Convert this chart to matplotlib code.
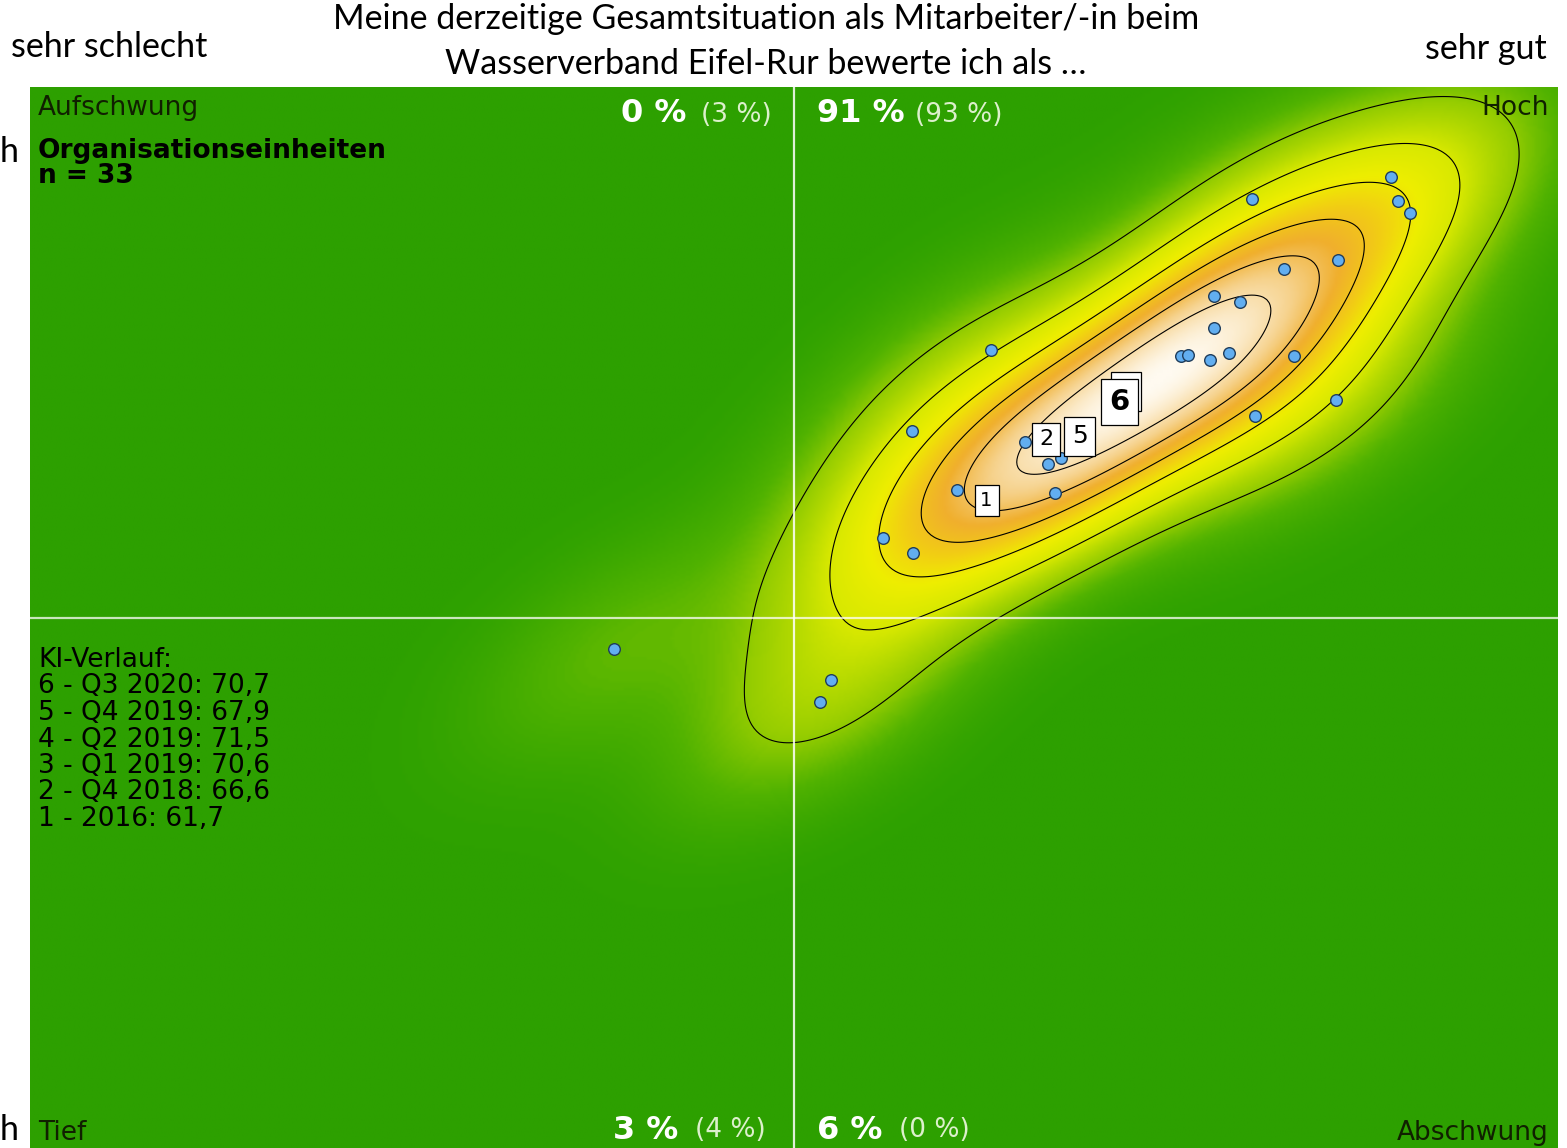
import numpy as np
import matplotlib
matplotlib.use("Agg")
import matplotlib.pyplot as plt
from matplotlib.colors import LinearSegmentedColormap

# ---------------- data ----------------
# organisational units (x = Bewertung, y = Erwartung), scale 0..100
unit_x = [89.1, 89.5, 90.3, 80.0, 85.6, 82.1, 77.5, 79.2, 77.5, 75.3, 75.8, 77.2,
          78.5, 82.7, 62.9, 85.5, 80.2, 57.7, 65.1, 66.6, 67.5, 60.7, 67.1, 55.8,
          57.8, 38.2, 52.4, 51.7,
          62.6, 66.5, 68.7, 71.2, 71.8]
unit_y = [91.5, 89.3, 88.1, 89.4, 83.7, 82.8, 80.3, 79.7, 77.3, 74.6, 74.7, 74.3,
          74.9, 74.6, 75.2, 70.5, 69.0, 67.6, 66.5, 64.5, 65.0, 62.0, 61.7, 57.5,
          56.1, 47.0, 44.1, 42.0,
          61.0, 66.8, 67.1, 70.3, 71.3]

# KI history labels
hist_labels = ["1", "2", "3", "4", "5", "6"]
hist_x = [62.6, 66.5, 71.1, 71.7, 68.7, 71.3]
hist_y = [61.0, 66.8, 70.2, 71.3, 67.1, 70.3]
hist_text = ["6 - Q3 2020: 70,7", "5 - Q4 2019: 67,9", "4 - Q2 2019: 71,5",
             "3 - Q1 2019: 70,6", "2 - Q4 2018: 66,6", "1 - 2016: 61,7"]

# quadrant shares: current and (previous)
quad_now = {"ul": "0 %", "ur": "91 %", "ll": "3 %", "lr": "6 %"}
quad_prev = {"ul": "(3 %)", "ur": "(93 %)", "ll": "(4 %)", "lr": "(0 %)"}

title = "Meine derzeitige Gesamtsituation als Mitarbeiter/-in beim\nWasserverband Eifel-Rur bewerte ich als \u2026"

# ---------------- figure ----------------
W, H = 1567, 1148
fig = plt.figure(figsize=(W / 100, H / 100), dpi=100)
ax = fig.add_axes([30 / W, 0, 1528 / W, 1 - 87 / H])
ax.set_xlim(0, 100)
ax.set_ylim(0, 100)
ax.set_axis_off()

# KDE (Gaussian kernel, correlated bandwidth)
n = len(unit_x)
bw_x, bw_y, rho = 6.5, 7.5, 0.55
cov = np.array([[bw_x ** 2, rho * bw_x * bw_y], [rho * bw_x * bw_y, bw_y ** 2]])
inv = np.linalg.inv(cov)
gx = np.linspace(0, 100, 520)
gy = np.linspace(0, 100, 380)
GX, GY = np.meshgrid(gx, gy)
dens = np.zeros_like(GX)
for px, py in zip(unit_x, unit_y):
    dx = GX - px
    dy = GY - py
    dens += np.exp(-0.5 * (inv[0, 0] * dx * dx + 2 * inv[0, 1] * dx * dy + inv[1, 1] * dy * dy))
dens /= dens.max()

cmap = LinearSegmentedColormap.from_list("kde", [
    (0.00, (45 / 255, 160 / 255, 0.0)),
    (0.07, (80 / 255, 178 / 255, 0.0)),
    (0.15, (150 / 255, 205 / 255, 0.0)),
    (0.28, (215 / 255, 232 / 255, 0.0)),
    (0.40, (238 / 255, 238 / 255, 0.0)),
    (0.52, (242 / 255, 205 / 255, 20 / 255)),
    (0.65, (240 / 255, 175 / 255, 45 / 255)),
    (0.80, (246 / 255, 210 / 255, 140 / 255)),
    (1.00, (1.0, 250 / 255, 240 / 255)),
])
ax.imshow(dens, extent=[0, 100, 0, 100], origin="lower", aspect="auto",
          cmap=cmap, vmin=0, vmax=1, interpolation="bilinear", zorder=0)
ax.contour(GX, GY, dens, levels=np.linspace(0, 1, 8)[1:-1], colors="black",
           linewidths=0.8, zorder=1)

# centre lines
ax.axvline(50, color="white", lw=1.6, alpha=0.85, zorder=2)
ax.axhline(50, color="white", lw=1.6, alpha=0.75, zorder=2)

# units
ax.scatter(unit_x, unit_y, s=70, color="#62aef0", edgecolor="#1f3d5c",
           linewidth=1.0, zorder=3)

# history labels
sizes = [14, 16, 17, 17.5, 18, 21]
weights = ["normal"] * 5 + ["bold"]
for lab, hx, hy, fs, fw in zip(hist_labels, hist_x, hist_y, sizes, weights):
    ax.text(hx, hy, lab, fontsize=fs, fontweight=fw, ha="center", va="center",
            zorder=5, family="DejaVu Sans",
            bbox=dict(boxstyle="square,pad=0.3", facecolor="white",
                      edgecolor="black", linewidth=0.9))

# ---------------- texts inside plot ----------------
def ftx(px):
    return px / W

def fty(py):
    return 1 - py / H

fs_in = 19
dark = "#102000"
fig.text(ftx(38), fty(115), "Aufschwung", fontsize=fs_in, color=dark, va="baseline")
fig.text(ftx(1549), fty(115), "Hoch", fontsize=fs_in, color=dark, va="baseline", ha="right")
fig.text(ftx(38), fty(1140), "Tief", fontsize=fs_in, color=dark, va="baseline")
fig.text(ftx(1549), fty(1140), "Abschwung", fontsize=fs_in, color=dark, va="baseline", ha="right")
fig.text(ftx(38), fty(158), "Organisationseinheiten", fontsize=fs_in, fontweight="bold",
         color="black", va="baseline")
fig.text(ftx(38), fty(183), "n = %d" % n, fontsize=fs_in, fontweight="bold",
         color="black", va="baseline")

fig.text(ftx(38), fty(667), "KI-Verlauf:", fontsize=fs_in, color="black", va="baseline")
for i, t in enumerate(hist_text):
    fig.text(ftx(38), fty(693.5 + 26.5 * i), t, fontsize=fs_in, color="black", va="baseline")

pc_bold = dict(fontsize=23, fontweight="bold", color="white", va="baseline")
pc_prev = dict(fontsize=19, color="#dcf0cc", va="baseline")
fig.text(ftx(686), fty(122), quad_now["ul"], ha="right", **pc_bold)
fig.text(ftx(772), fty(122), quad_prev["ul"], ha="right", **pc_prev)
fig.text(ftx(817), fty(122), quad_now["ur"], ha="left", **pc_bold)
fig.text(ftx(915), fty(122), quad_prev["ur"], ha="left", **pc_prev)
fig.text(ftx(678), fty(1139), quad_now["ll"], ha="right", **pc_bold)
fig.text(ftx(766), fty(1137), quad_prev["ll"], ha="right", **pc_prev)
fig.text(ftx(817), fty(1139), quad_now["lr"], ha="left", **pc_bold)
fig.text(ftx(899), fty(1137), quad_prev["lr"], ha="left", **pc_prev)

# ---------------- texts outside plot ----------------
outer = dict(family=["Lato", "DejaVu Sans"], color="black")
ofs = 24.5
fig.text(ftx(766), fty(19), title.split("\n")[0], fontsize=ofs, ha="center", va="center", **outer)
fig.text(ftx(766), fty(64), title.split("\n")[1], fontsize=ofs, ha="center", va="center", **outer)
fig.text(ftx(11), fty(47), "sehr schlecht", fontsize=ofs, ha="left", va="center", **outer)
fig.text(ftx(1547), fty(49), "sehr gut", fontsize=ofs, ha="right", va="center", **outer)
fig.text(ftx(0), fty(152), "h", fontsize=ofs, ha="left", va="center", **outer)
fig.text(ftx(0), fty(1130), "h", fontsize=ofs, ha="left", va="center", **outer)

fig.savefig("out.png", dpi=100)
